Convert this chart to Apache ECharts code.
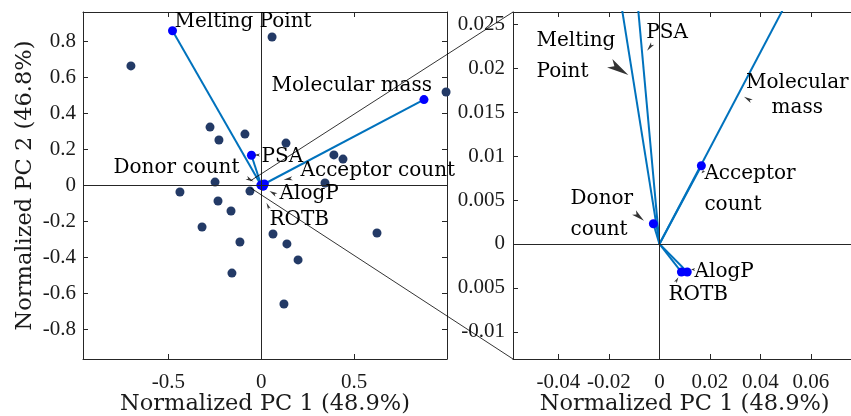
<!DOCTYPE html>
<html>
<head>
<meta charset="utf-8">
<script src="https://cdn.jsdelivr.net/npm/echarts@6/dist/echarts.min.js"></script>
</head>
<body style="margin:0;background:#ffffff;">
<div id="main" style="width:851px;height:416px;"></div>
<script>
// loadings (vectors)
var loadNames = ['Melting Point', 'PSA', 'Molecular mass', 'Acceptor count', 'Donor count', 'AlogP', 'ROTB'];
var loadPC1 = [-0.478, -0.053, 0.876, 0.0166, -0.0024, 0.0110, 0.0087];
var loadPC2 = [0.861, 0.168, 0.478, 0.0089, 0.0023, -0.0032, -0.0032];

// scores (observations)
var scorePC1 = [-0.702, 0.058, 0.995, -0.276, -0.088, -0.228, 0.133, 0.391, 0.440, 0.343, -0.438, -0.249,
	-0.061, -0.233, -0.163, -0.319, -0.115, -0.158, 0.063, 0.138, 0.198, 0.623, 0.122];
var scorePC2 = [0.665, 0.826, 0.520, 0.325, 0.286, 0.253, 0.236, 0.170, 0.147, 0.014, -0.036, 0.019,
	-0.031, -0.086, -0.142, -0.231, -0.314, -0.487, -0.270, -0.325, -0.414, -0.264, -0.659];

// axis ranges
var leftXRange = [-0.96, 1.0];
var leftYRange = [-0.965, 0.965];
var rightXRange = [-0.058, 0.078];
var rightYRange = [-0.0131, 0.0264];

// text labels, anchored in data units
var leftLabelText = ['Melting Point', 'Molecular mass', 'PSA', 'Donor count', 'Acceptor count', 'AlogP', 'ROTB'];
var leftLabelX = [-0.465, 0.058, 0.004, -0.793, 0.214, 0.101, 0.047];
var leftLabelY = [0.909, 0.553, 0.159, 0.097, 0.081, -0.047, -0.192];

var rightLabelText = ['Melting\nPoint', 'PSA', 'Molecular\nmass', 'Acceptor\ncount', 'Donor\ncount', 'AlogP', 'ROTB'];
var rightLabelX = [-0.0485, -0.0050, 0.0548, 0.018, -0.035, 0.0141, 0.0038];
var rightLabelY = [0.0213, 0.0240, 0.0169, 0.0062, 0.0033, -0.0032, -0.0059];

// arrow heads (data units + direction in degrees)
var leftArrowX = [-0.023, -0.061, 0.144, 0.063, 0.036];
var leftArrowY = [0.170, 0.033, 0.036, -0.042, -0.114];
var leftArrowDir = [180, -27, -170, 150, 115];
var leftArrowLen = [6, 8, 9, 8, 7];

var rightArrowX = [-0.0160, -0.0038, 0.035, -0.0081, 0.0172, 0.0069, 0.0133];
var rightArrowY = [0.0199, 0.0224, 0.0165, 0.0031, 0.0082, -0.0041, -0.0029];
var rightArrowDir = [-32, -128, 149, -40, -135, 60, 180];
var rightArrowLen = [22, 9, 9, 13, 4, 6, 4];

var axisColor = '#262626';
var textColor = '#000000';
var serif = "'DejaVu Serif', serif";
var tickFont = "'Liberation Serif', serif";
var arrowPath = 'path://M5,0 L10,12 L5,9 L0,12 Z';

function pairs(xs, ys) {
	var out = [];
	for (var i = 0; i < xs.length; i++) out.push([xs[i], ys[i]]);
	return out;
}

function boxAxis(gridIndex, range, pos, labels, extra) {
	var ax = {
		type: 'value',
		gridIndex: gridIndex,
		position: pos,
		min: range[0],
		max: range[1],
		nameMoveOverlap: false,
		axisLine: {show: true, onZero: false, lineStyle: {color: axisColor, width: 1}},
		axisTick: {show: true, inside: true, length: 5, lineStyle: {color: axisColor}},
		splitLine: {show: false},
		axisLabel: {show: labels, showMinLabel: false, showMaxLabel: false,
			color: '#1a1a1a', fontFamily: tickFont, fontSize: 21}
	};
	for (var k in extra) ax[k] = extra[k];
	return ax;
}

var nameStyle = {color: '#1a1a1a', fontFamily: serif, fontSize: 22.5};

var xAxes = [
	boxAxis(0, leftXRange, 'bottom', true, {splitNumber: 4, name: 'Normalized PC 1 (48.9%)', nameLocation: 'middle', nameGap: 34, nameTextStyle: nameStyle}),
	boxAxis(0, leftXRange, 'top', false, {splitNumber: 4}),
	boxAxis(1, rightXRange, 'bottom', true, {splitNumber: 7, name: 'Normalized PC 1 (48.9%)', nameLocation: 'middle', nameGap: 34, nameTextStyle: nameStyle}),
	boxAxis(1, rightXRange, 'top', false, {splitNumber: 7})
];
xAxes[0].axisLabel.margin = 13;
xAxes[2].axisLabel.margin = 13;
xAxes[2].axisLabel.formatter = function (v) { return String(+v.toFixed(4)); };

var yAxes = [
	boxAxis(0, leftYRange, 'left', true, {splitNumber: 9, name: 'Normalized PC 2 (46.8%)', nameLocation: 'middle', nameGap: 46, nameTextStyle: nameStyle}),
	boxAxis(0, leftYRange, 'right', false, {splitNumber: 9}),
	boxAxis(1, rightYRange, 'left', true, {splitNumber: 8}),
	boxAxis(1, rightYRange, 'right', false, {splitNumber: 8})
];
yAxes[0].axisLabel.margin = 7;
yAxes[2].axisLabel.formatter = function (v) {
	v = +v.toFixed(4);
	if (v === -0.005) return '0.005';
	return String(v);
};
yAxes[2].axisLabel.margin = 8;

var series = [];

// zero lines in both panels
[0, 1].forEach(function (g) {
	series.push({
		type: 'line', xAxisIndex: g * 2, yAxisIndex: g * 2, data: [], z: 1, silent: true,
		markLine: {silent: true, symbol: 'none', animation: false, label: {show: false},
			lineStyle: {color: axisColor, width: 1, type: 'solid'},
			data: [{xAxis: 0}, {yAxis: 0}]}
	});
});

// score points (left panel only)
series.push({
	type: 'scatter', xAxisIndex: 0, yAxisIndex: 0, z: 2,
	symbolSize: 9, itemStyle: {color: '#233a66', opacity: 1},
	data: pairs(scorePC1, scorePC2)
});

// loading vectors + end points
[0, 1].forEach(function (g) {
	for (var i = 0; i < loadNames.length; i++) {
		series.push({
			type: 'line', xAxisIndex: g * 2, yAxisIndex: g * 2, z: 3, clip: true,
			showSymbol: false, symbol: 'none',
			lineStyle: {color: '#0072BD', width: 2},
			data: [[0, 0], [loadPC1[i], loadPC2[i]]]
		});
	}
	series.push({
		type: 'scatter', xAxisIndex: g * 2, yAxisIndex: g * 2, z: 4, clip: true,
		symbolSize: 9, itemStyle: {color: '#0000ff', opacity: 1},
		data: pairs(loadPC1, loadPC2)
	});
});

function labelSeries(g, texts, xs, ys, fmt) {
	var data = [];
	for (var i = 0; i < texts.length; i++) {
		var item = {value: [xs[i], ys[i]], name: texts[i]};
		if (fmt) item.label = fmt(texts[i]);
		data.push(item);
	}
	return {
		type: 'scatter', xAxisIndex: g * 2, yAxisIndex: g * 2, z: 5, clip: false,
		symbolSize: 1, itemStyle: {color: '#ffffff', opacity: 0.01}, silent: true,
		label: {show: true, position: [0, 0], align: 'left', verticalAlign: 'middle', opacity: 1,
			textBorderWidth: 0, formatter: '{b}', color: textColor, fontFamily: serif, fontSize: 20, lineHeight: 31},
		data: data
	};
}

series.push(labelSeries(0, leftLabelText, leftLabelX, leftLabelY));
series.push(labelSeries(1, rightLabelText, rightLabelX, rightLabelY, function (t) {
	if (t === 'Molecular\nmass') return {align: 'center', lineHeight: 25};
	return {};
}));

function arrowSeries(g, xs, ys, dirs, lens) {
	var data = [];
	for (var i = 0; i < xs.length; i++) {
		var len = lens[i];
		data.push({value: [xs[i], ys[i]], symbolRotate: dirs[i] - 90,
			symbolSize: [Math.max(3, Math.round(len * 0.45)), len]});
	}
	return {
		type: 'scatter', xAxisIndex: g * 2, yAxisIndex: g * 2, z: 5, clip: false,
		symbol: arrowPath, symbolKeepAspect: false, itemStyle: {color: '#000'}, silent: true,
		data: data
	};
}

series.push(arrowSeries(0, leftArrowX, leftArrowY, leftArrowDir, leftArrowLen));
series.push(arrowSeries(1, rightArrowX, rightArrowY, rightArrowDir, rightArrowLen));

var option = {
	animation: false,
	backgroundColor: '#ffffff',
	grid: [
		{left: 83, top: 12, width: 364, height: 347, outerBoundsMode: 'none'},
		{left: 513, top: 12, width: 343.4, height: 347, outerBoundsMode: 'none'}
	],
	xAxis: xAxes,
	yAxis: yAxes,
	series: series
};

var myChart = echarts.init(document.getElementById('main'));
myChart.setOption(option, true);

// zoom connector lines: from the zoomed region in the left panel to the right panel's corners
var a1 = myChart.convertToPixel({xAxisIndex: 0, yAxisIndex: 0}, [rightXRange[0], rightYRange[1]]);
var a2 = myChart.convertToPixel({xAxisIndex: 0, yAxisIndex: 0}, [rightXRange[0], rightYRange[0]]);
var b1 = myChart.convertToPixel({xAxisIndex: 2, yAxisIndex: 2}, [rightXRange[0], rightYRange[1]]);
var b2 = myChart.convertToPixel({xAxisIndex: 2, yAxisIndex: 2}, [rightXRange[0], rightYRange[0]]);
myChart.setOption({
	graphic: [
		{type: 'line', z: 100, shape: {x1: a1[0], y1: a1[1], x2: b1[0], y2: b1[1]}, style: {stroke: '#000', lineWidth: 0.8}},
		{type: 'line', z: 100, shape: {x1: a2[0], y1: a2[1], x2: b2[0], y2: b2[1]}, style: {stroke: '#000', lineWidth: 0.8}}
	]
});
</script>
</body>
</html>
